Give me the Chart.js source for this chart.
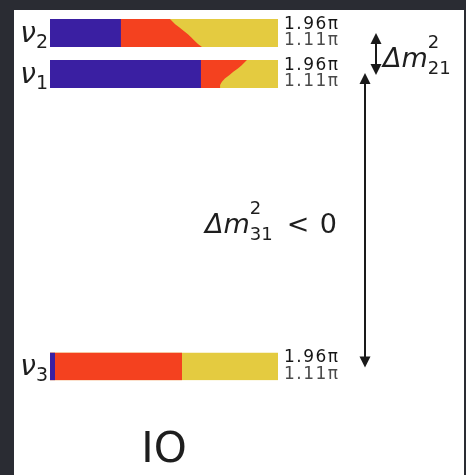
<!DOCTYPE html>
<html>
<head>
<meta charset="utf-8">
<script src="https://cdn.jsdelivr.net/npm/chart.js@4.4.1/dist/chart.umd.min.js"></script>
<style>
  html, body { margin: 0; padding: 0; background: #2a2c33; overflow: hidden; }
  #wrap { width: 466px; height: 475px; }
</style>
</head>
<body>
<div id="wrap"><canvas id="levels" width="466" height="475"></canvas></div>
<script>
// CP phase samples (in units of π), from the bottom edge to the top edge of each bar
const deltaPi = [1.11, 1.20, 1.30, 1.40, 1.50, 1.60, 1.70, 1.80, 1.90, 1.96];

// mass eigenstates, top to bottom (inverted ordering: ν3 is the lightest)
const stateSub = ['2', '1', '3'];
const massLevel = [114, 100, 0];      // schematic level positions
const barThickness = 9.6;             // level units covered by the δ range

// electron-flavour share |U_ei|^2
const eShare = [0.311, 0.662, 0.022];

// muon-flavour share |U_μi|^2 at each δ sample
const muShareNu2 = [0.356, 0.338, 0.323, 0.309, 0.294, 0.276, 0.257, 0.238, 0.224, 0.215];
const muShareNu1 = [0.084, 0.084, 0.092, 0.105, 0.124, 0.142, 0.162, 0.179, 0.193, 0.202];
const muShareNu3 = [0.557, 0.557, 0.557, 0.557, 0.557, 0.557, 0.557, 0.557, 0.557, 0.557];
const muShare = [muShareNu2, muShareNu1, muShareNu3];

const colors = { e: '#3a1fa2', mu: '#f4411f', tau: '#e4cb40' };

const dMin = deltaPi[0], dMax = deltaPi[deltaPi.length - 1];
const half = barThickness / 2;

// vertical position of a δ sample inside the bar of state i
function levelY(i, d) {
  return massLevel[i] - half + (d - dMin) / (dMax - dMin) * barThickness;
}

// Each bar is three cumulative boundaries filled back to x = 0;
// the wider fills are drawn first, the narrower ones on top.
const datasets = [];
stateSub.forEach((s, i) => {
  const eLine = deltaPi.map(d => ({ x: eShare[i], y: levelY(i, d) }));
  const muLine = deltaPi.map((d, k) => ({ x: eShare[i] + muShare[i][k], y: levelY(i, d) }));
  const tauLine = deltaPi.map(d => ({ x: 1, y: levelY(i, d) }));
  [[eLine, colors.e, 'e'], [muLine, colors.mu, 'μ'], [tauLine, colors.tau, 'τ']].forEach(([pts, c, f]) => {
    datasets.push({
      label: 'ν' + s + ' ' + f,
      data: pts,
      backgroundColor: c,
      borderColor: c,
      borderWidth: 0,
      pointRadius: 0,
      tension: 0,
      fill: { value: 0 }
    });
  });
});

function drawArrow(ctx, x, yTop, yBot) {
  const head = 11, hw = 5.5;
  ctx.beginPath();
  ctx.moveTo(x, yTop + head - 1);
  ctx.lineTo(x, yBot - head + 1);
  ctx.stroke();
  ctx.beginPath();
  ctx.moveTo(x, yTop); ctx.lineTo(x - hw, yTop + head); ctx.lineTo(x + hw, yTop + head); ctx.closePath();
  ctx.fill();
  ctx.beginPath();
  ctx.moveTo(x, yBot); ctx.lineTo(x - hw, yBot - head); ctx.lineTo(x + hw, yBot - head); ctx.closePath();
  ctx.fill();
}

function drawSplitting(ctx, x0, mid, sub, negative) {
  ctx.textAlign = 'left';
  ctx.textBaseline = 'alphabetic';
  ctx.font = 'italic 27px "DejaVu Sans"';
  ctx.fillText('Δm', x0, mid + 13);
  let x = x0 + ctx.measureText('Δm').width;
  ctx.font = '18px "DejaVu Sans"';
  ctx.fillText('2', x, mid - 6);
  ctx.fillText(sub, x, mid + 20);
  x += ctx.measureText(sub).width;
  if (negative) {
    ctx.font = '27px "DejaVu Sans"';
    ctx.fillText('<', x + 14, mid + 13);
    ctx.fillText('0', x + 47, mid + 13);
  }
}

const diagram = {
  id: 'diagram',
  beforeDraw(chart) {
    const ctx = chart.ctx;
    ctx.save();
    ctx.fillStyle = '#2a2c33';
    ctx.fillRect(0, 0, chart.width, chart.height);
    ctx.fillStyle = '#ffffff';
    ctx.fillRect(14, 10, 450, chart.height - 10);
    ctx.restore();
  },
  afterDraw(chart) {
    const { ctx, scales: { x, y } } = chart;
    const xL = x.getPixelForValue(0), xR = x.getPixelForValue(1);
    ctx.save();
    ctx.fillStyle = '#1e1e1e';
    ctx.textBaseline = 'alphabetic';

    stateSub.forEach((s, i) => {
      const yc = y.getPixelForValue(massLevel[i]);
      const yTop = y.getPixelForValue(massLevel[i] + half);
      const yBot = y.getPixelForValue(massLevel[i] - half);

      // state label ν_i
      ctx.textAlign = 'right';
      ctx.font = '19px "DejaVu Sans"';
      const subW = ctx.measureText(s).width;
      ctx.fillStyle = '#1e1e1e';
      ctx.fillText(s, xL - 2, yc + 15);
      ctx.font = 'italic 28px "DejaVu Sans"';
      ctx.fillText('ν', xL - 2 - subW, yc + 9);

      // δ range at the bar edges
      ctx.textAlign = 'left';
      ctx.font = '17px "DejaVu Sans"';
      if ('letterSpacing' in ctx) ctx.letterSpacing = '1.5px';
      ctx.fillStyle = '#151515';
      ctx.fillText(dMax.toFixed(2) + 'π', xR + 6, yTop + 10);
      ctx.fillStyle = '#4a4a4a';
      ctx.fillText(dMin.toFixed(2) + 'π', xR + 6, yBot - 2);
      if ('letterSpacing' in ctx) ctx.letterSpacing = '0px';
    });

    const y2 = y.getPixelForValue(massLevel[0]);
    const y1 = y.getPixelForValue(massLevel[1]);
    const y3 = y.getPixelForValue(massLevel[2]);

    ctx.strokeStyle = '#1a1a1a';
    ctx.fillStyle = '#1a1a1a';
    ctx.lineWidth = 2;
    drawArrow(ctx, xR + 98, y2, y1 + 1);
    drawArrow(ctx, xR + 87, y1 - 1, y3 + 1);

    ctx.fillStyle = '#1e1e1e';
    drawSplitting(ctx, xR + 105, (y2 + y1) / 2, '21', false);
    drawSplitting(ctx, 205, (y1 + y3) / 2, '31', true);

    ctx.textAlign = 'center';
    ctx.font = '42px "DejaVu Sans"';
    ctx.fillText('IO', (xL + xR) / 2, 462);
    ctx.restore();
  }
};

new Chart(document.getElementById('levels'), {
  type: 'line',
  data: { datasets },
  options: {
    indexAxis: 'y',
    responsive: false,
    animation: false,
    events: [],
    layout: { autoPadding: false, padding: { left: 50, right: 188, top: 19, bottom: 94.5 } },
    scales: {
      x: { type: 'linear', min: 0, max: 1, display: false },
      y: { type: 'linear', min: massLevel[2] - half, max: massLevel[0] + half, display: false }
    },
    plugins: { legend: { display: false }, tooltip: { enabled: false }, title: { display: false } }
  },
  plugins: [diagram]
});
</script>
</body>
</html>
